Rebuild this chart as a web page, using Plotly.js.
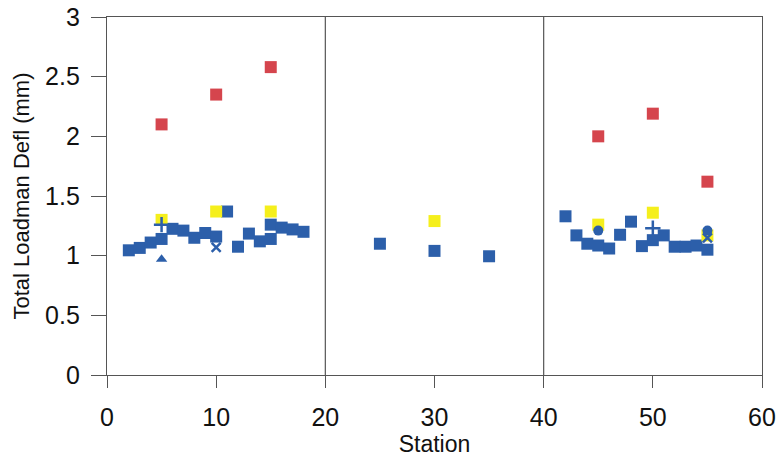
<!DOCTYPE html>
<html>
<head>
<meta charset="utf-8">
<script src="https://cdn.plot.ly/plotly-3.0.1.min.js"></script>
<style>html,body{margin:0;padding:0;background:#fff;}#chart{width:779px;height:459px;}</style>
</head>
<body>
<div id="chart"></div>
<script>
// Data
const redX = [5, 10, 15, 45, 50, 55];
const redY = [2.10, 2.35, 2.58, 2.00, 2.19, 1.62];

const yellowX = [5, 10, 15, 30, 45, 50, 55];
const yellowY = [1.30, 1.37, 1.37, 1.29, 1.26, 1.36, 1.17];

const blueX = [2, 3, 4, 5, 6, 7, 8, 9, 10, 11, 12, 13, 14, 15, 15, 16, 17, 18,
               25, 30, 35,
               42, 43, 44, 45, 46, 47, 48, 49, 50, 51, 52, 53, 54, 55];
const blueY = [1.045, 1.065, 1.11, 1.14, 1.225, 1.21, 1.15, 1.19, 1.16, 1.37, 1.075, 1.185, 1.12, 1.14, 1.26, 1.235, 1.22, 1.20,
               1.10, 1.04, 0.995,
               1.33, 1.17, 1.10, 1.085, 1.06, 1.175, 1.285, 1.08, 1.13, 1.17, 1.075, 1.075, 1.085, 1.05];

const triX = [5];
const triY = [0.97];
const plusX = [5, 50];
const plusY = [1.26, 1.23];
const crossX = [10, 55];
const crossY = [1.07, 1.15];
const circX = [45, 55];
const circY = [1.21, 1.21];

const dividers = [20, 40];
const xTicks = [0, 10, 20, 30, 40, 50, 60];
const yTicks = [0, 0.5, 1, 1.5, 2, 2.5, 3];
const yTickText = ['0', '0.5', '1', '1.5', '2', '2.5', '3'];

const blue = '#2c5faa';
const sq = 12;
const fam = '"Liberation Sans", Arial, sans-serif';

const traces = [
  {x: blueX, y: blueY, mode: 'markers', type: 'scatter',
   marker: {symbol: 'square', size: sq, color: blue}},
  {x: yellowX, y: yellowY, mode: 'markers', type: 'scatter',
   marker: {symbol: 'square', size: sq, color: '#f5ef1c'}},
  {x: redX, y: redY, mode: 'markers', type: 'scatter',
   marker: {symbol: 'square', size: sq, color: '#d5454d'}},
  {x: triX, y: triY, mode: 'markers', type: 'scatter',
   marker: {symbol: 'triangle-up', size: 10, color: blue}},
  {x: plusX, y: plusY, mode: 'markers', type: 'scatter',
   marker: {symbol: 'cross-thin', size: 11, color: blue, line: {color: blue, width: 2.5}}},
  {x: crossX, y: crossY, mode: 'markers', type: 'scatter',
   marker: {symbol: 'x-thin', size: 9, color: blue, line: {color: blue, width: 2.5}}},
  {x: circX, y: circY, mode: 'markers', type: 'scatter',
   marker: {symbol: 'circle', size: 10, color: blue}}
];

const shapes = dividers.map(d => ({
  type: 'line', xref: 'x', yref: 'paper', x0: d, x1: d, y0: 0, y1: 1,
  line: {color: '#555', width: 1.2}
}));

const layout = {
  width: 779, height: 459,
  margin: {l: 107, r: 17, t: 17, b: 84},
  paper_bgcolor: '#fff', plot_bgcolor: '#fff',
  showlegend: false,
  font: {family: fam, color: '#111'},
  xaxis: {
    range: [0, 60], tickvals: xTicks, ticks: 'outside', ticklen: 12, tickcolor: '#555',
    showline: true, linecolor: '#555', linewidth: 1.2, mirror: true,
    showgrid: false, zeroline: false, ticklabelstandoff: 8,
    tickfont: {family: fam, size: 25, color: '#111'},
    title: {text: 'Station', font: {family: fam, size: 23, color: '#111'}, standoff: 5}
  },
  yaxis: {
    range: [0, 3], tickvals: yTicks, ticktext: yTickText, ticks: 'outside', ticklen: 15, tickcolor: '#555',
    showline: true, linecolor: '#555', linewidth: 1.2, mirror: true,
    showgrid: false, zeroline: false, ticklabelstandoff: 6,
    tickfont: {family: fam, size: 25, color: '#111'},
    title: {text: 'Total Loadman Defl (mm)', font: {family: fam, size: 22, color: '#111'}, standoff: 9}
  },
  shapes: shapes
};

Plotly.newPlot('chart', traces, layout, {displayModeBar: false, staticPlot: true});
</script>
</body>
</html>
